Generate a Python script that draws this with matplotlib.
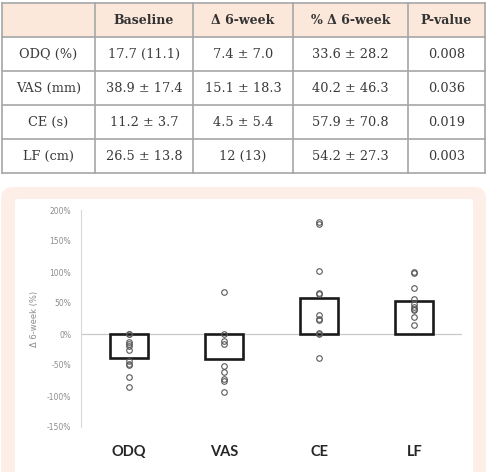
import matplotlib
matplotlib.use("Agg")
import matplotlib.pyplot as plt
from matplotlib.patches import Rectangle, FancyBboxPatch

# ---------------- data ----------------
table_header = ["", "Baseline", "Δ 6-week", "% Δ 6-week", "P-value"]
row_labels = ["ODQ (%)", "VAS (mm)", "CE (s)", "LF (cm)"]
baseline = ["17.7 (11.1)", "38.9 ± 17.4", "11.2 ± 3.7", "26.5 ± 13.8"]
delta_6wk = ["7.4 ± 7.0", "15.1 ± 18.3", "4.5 ± 5.4", "12 (13)"]
pct_delta_6wk = ["33.6 ± 28.2", "40.2 ± 46.3", "57.9 ± 70.8", "54.2 ± 27.3"]
p_values = ["0.008", "0.036", "0.019", "0.003"]

categories = ["ODQ", "VAS", "CE", "LF"]
bar_means = [-39, -40, 58, 54]
odq_pts = [0, 0, -13, -16, -19, -25, -44, -49, -50, -69, -86]
vas_pts = [67, 0, -11, -16, -52, -62, -72, -75, -94]
ce_pts = [180, 177, 102, 66, 64, 30, 25, 22, 1, 0, -39]
lf_pts = [100, 99, 75, 57, 49, 44, 40, 38, 28, 15]
points = [odq_pts, vas_pts, ce_pts, lf_pts]
yticks = [-150, -100, -50, 0, 50, 100, 150, 200]

W, H = 487, 472
fig = plt.figure(figsize=(W / 100, H / 100), dpi=100)
fig.patch.set_facecolor("white")

def fx(px):
    return px / W

def fy(py):
    return 1 - py / H

# ---------------- table ----------------
col_edges = [2, 95, 193, 293, 408, 485]
row_top, row_h = 3, 34
tax = fig.add_axes([0, 0, 1, 1])
tax.set_xlim(0, W)
tax.set_ylim(H, 0)
tax.axis("off")

# chart panel background (pink rounded frame)
tax.add_patch(FancyBboxPatch((1, 187), W - 2, 320, boxstyle="round,pad=0,rounding_size=12",
                             facecolor="#FDEEE7", edgecolor="none", zorder=0))
tax.add_patch(FancyBboxPatch((15, 199), 458, 300, boxstyle="round,pad=0,rounding_size=3",
                             facecolor="white", edgecolor="none", zorder=0.5))

columns = [row_labels, baseline, delta_6wk, pct_delta_6wk, p_values]
n_rows = len(row_labels) + 1
# header background
tax.add_patch(Rectangle((col_edges[0], row_top), col_edges[-1] - col_edges[0], row_h,
                        facecolor="#FCE8DA", edgecolor="none", zorder=1))
grid_c = "#A6A6A6"
for ce in col_edges:
    tax.plot([ce, ce], [row_top, row_top + n_rows * row_h], color=grid_c, lw=1.2, zorder=2)
for r in range(n_rows + 1):
    y = row_top + r * row_h
    tax.plot([col_edges[0], col_edges[-1]], [y, y], color=grid_c, lw=1.2, zorder=2)

for c in range(5):
    xc = (col_edges[c] + col_edges[c + 1]) / 2
    tax.text(xc, row_top + row_h / 2, table_header[c], ha="center", va="center",
             fontsize=9, fontweight="bold", family="DejaVu Serif", color="#333333", zorder=3)
    for r in range(len(row_labels)):
        tax.text(xc, row_top + (r + 1.5) * row_h, columns[c][r], ha="center", va="center",
                 fontsize=9.3, family="DejaVu Serif", color="#3a3a3a", zorder=3)

# ---------------- chart ----------------
ax_left, ax_right, ax_top, ax_bot = 81, 462, 210, 427
ax = fig.add_axes([fx(ax_left), fy(ax_bot), (ax_right - ax_left) / W, (ax_bot - ax_top) / H])
ax.set_facecolor("none")
xs = [i + 0.5 for i in range(len(categories))]
ax.bar(xs, bar_means, width=0.4, facecolor="white", edgecolor="#1a1a1a", linewidth=1.9, zorder=2)
ax.axhline(0, color="#C8C8C8", lw=0.9, zorder=1)
for x, pts in zip(xs, points):
    ax.plot([x] * len(pts), pts, linestyle="none", marker="o", markersize=4,
            markerfacecolor="none", markeredgecolor="#595959", markeredgewidth=0.8, zorder=3)

ax.set_xlim(0, 4)
ax.set_ylim(-150, 200)
ax.set_yticks(yticks)
ax.set_yticklabels([f"{v}%" for v in yticks], fontsize=5.5, color="#8C8C8C")
ax.set_xticks(xs)
ax.set_xticklabels(categories, fontsize=10.5, fontweight="bold", family="Lato", color="#262626")
ax.tick_params(axis="y", length=0, pad=7)
ax.tick_params(axis="x", length=0, pad=13)
for s in ["top", "right", "bottom"]:
    ax.spines[s].set_visible(False)
ax.spines["left"].set_color("#D9D9D9")
ax.spines["left"].set_linewidth(0.8)
ax.set_ylabel("Δ 6-week (%)", fontsize=6, color="#8C8C8C", labelpad=6)

fig.savefig("out.png", dpi=100)
